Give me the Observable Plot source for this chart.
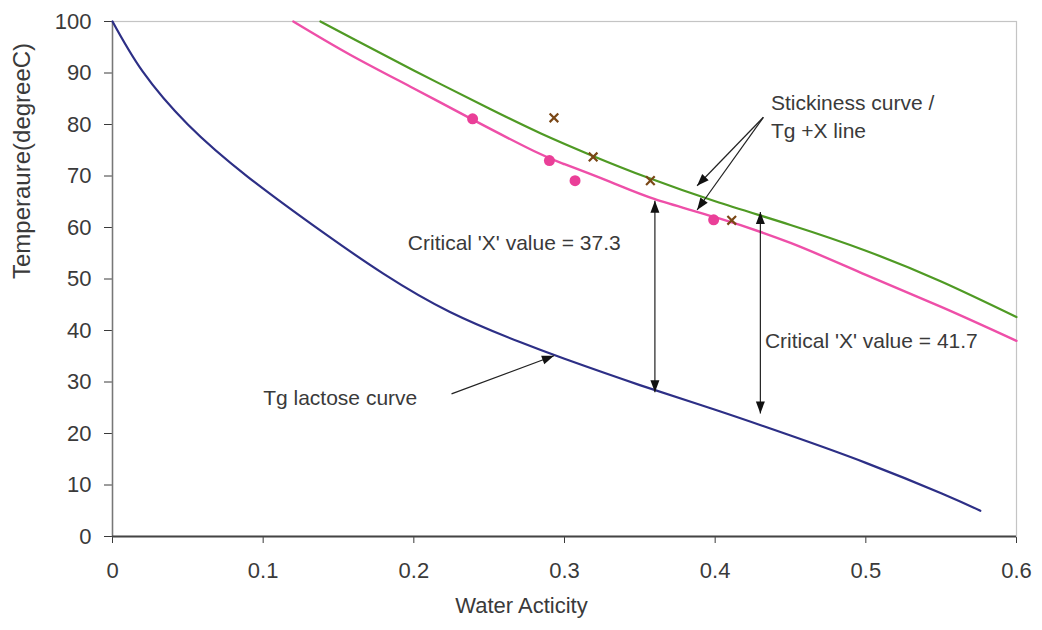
<!DOCTYPE html>
<html>
<head>
<meta charset="utf-8">
<script src="https://cdn.jsdelivr.net/npm/d3@7"></script>
<script src="https://cdn.jsdelivr.net/npm/@observablehq/plot@0.6"></script>
<style>
  html, body { margin: 0; padding: 0; background: #fff; }
</style>
</head>
<body>
<div id="chart"></div>
<script>
// ---- Data ----
const xTicks = [0, 0.1, 0.2, 0.3, 0.4, 0.5, 0.6];
const yTicks = [0, 10, 20, 30, 40, 50, 60, 70, 80, 90, 100];

// Tg lactose curve (blue)
const tgX = [0, 0.02, 0.05, 0.09, 0.14, 0.18, 0.224, 0.27, 0.3, 0.35, 0.4, 0.45, 0.5, 0.55, 0.576];
const tgY = [100, 90.3, 80, 69.8, 59.0, 51.0, 43.6, 37.8, 34.5, 29.4, 24.6, 19.6, 14.3, 8.4, 5.0];

// Stickiness curve (pink)
const stickX = [0.12, 0.158, 0.2, 0.24, 0.28, 0.3, 0.33, 0.36, 0.4, 0.45, 0.5, 0.55, 0.6];
const stickY = [100, 93.5, 87.0, 80.8, 74.8, 72.3, 68.9, 65.5, 62.0, 57.0, 50.8, 44.6, 38.0];

// Tg + X line (green)
const tgxX = [0.138, 0.16, 0.2, 0.25, 0.284, 0.318, 0.356, 0.4, 0.45, 0.5, 0.55, 0.6];
const tgxY = [100, 96.6, 90.5, 83.1, 78.3, 74.0, 69.6, 65.1, 60.5, 55.5, 49.5, 42.6];

// Measured points (pink dots) and crosses
const dotX = [0.239, 0.290, 0.307, 0.399];
const dotY = [81.1, 73.0, 69.1, 61.5];
const crossX = [0.293, 0.319, 0.357, 0.411];
const crossY = [81.3, 73.7, 69.1, 61.4];

// Annotation texts
const noteText = ["Critical 'X' value = 37.3", "Critical 'X' value = 41.7", "Tg lactose curve", "Stickiness curve /", "Tg +X line"];
const noteX = [0.196, 0.433, 0.100, 0.437, 0.437];
const noteY = [56.9, 38.0, 26.8, 84.1, 78.6];

// Leader arrows (from -> to)
const leadX1 = [0.225, 0.432, 0.432];
const leadY1 = [27.7, 81.4, 81.4];
const leadX2 = [0.293, 0.388, 0.388];
const leadY2 = [35.1, 68.1, 63.4];

// Double-headed "critical X" arrows
const spanX = [0.360, 0.430];
const spanTop = [65.2, 63.0];
const spanBottom = [28.0, 23.9];

// ---- Layout ----
const W = 1042, H = 630, ML = 112, MR = 26, MT = 21, MB = 94;
const sx = d3.scaleLinear([0, 0.6], [ML, W - MR]);
const sy = d3.scaleLinear([0, 100], [H - MB, MT]);

const toRows = (xs, ys) => xs.map((x, i) => ({x, y: ys[i]}));
const tg = toRows(tgX, tgY);
const stick = toRows(stickX, stickY);
const tgx = toRows(tgxX, tgxY);
const dots = toRows(dotX, dotY);
const crosses = toRows(crossX, crossY);
const notes = noteText.map((t, i) => ({t, x: noteX[i], y: noteY[i]}));
const leaders = leadX1.map((x1, i) => ({x1, y1: leadY1[i], x2: leadX2[i], y2: leadY2[i]}));
const spans = spanX.map((x, i) => ({x, y1: spanTop[i], y2: spanBottom[i]}));

// arrow heads: tip location + screen angle (deg clockwise from up)
const heads = [];
leaders.forEach(d => {
  const dx = sx(d.x2) - sx(d.x1), dy = sy(d.y2) - sy(d.y1);
  heads.push({x: d.x2, y: d.y2, a: Math.atan2(dx, -dy) * 180 / Math.PI});
});
spans.forEach(d => {
  heads.push({x: d.x, y: d.y1, a: 0});
  heads.push({x: d.x, y: d.y2, a: 180});
});

const font = "'Liberation Sans', Arial, Helvetica, sans-serif";

const chart = Plot.plot({
  width: W, height: H,
  marginLeft: ML, marginRight: MR, marginTop: MT, marginBottom: MB,
  style: {fontFamily: font, fontSize: "22px", color: "#3a3a3a", background: "#fff"},
  x: {domain: [0, 0.6], ticks: xTicks, tickFormat: d => String(d), tickSize: 7, tickPadding: 19, label: null},
  y: {domain: [0, 100], ticks: yTicks, tickSize: 8, tickPadding: 13, label: null},
  marks: [
    Plot.frame({stroke: "#c4c4c4", strokeWidth: 1.2}),
    Plot.ruleX([0], {stroke: "#777", strokeWidth: 1.5}),
    Plot.ruleY([0], {stroke: "#444", strokeWidth: 2}),
    Plot.line(tg, {x: "x", y: "y", stroke: "#2d2f86", strokeWidth: 2.2, curve: "natural"}),
    Plot.line(tgx, {x: "x", y: "y", stroke: "#4f9a24", strokeWidth: 2.2, curve: "natural"}),
    Plot.line(stick, {x: "x", y: "y", stroke: "#ee4fa8", strokeWidth: 2.4, curve: "natural"}),
    Plot.dot(dots, {x: "x", y: "y", r: 5.5, fill: "#ea3f98", stroke: "none"}),
    Plot.dot(crosses, {x: "x", y: "y", r: 4, symbol: "times", stroke: "#7a4716", strokeWidth: 2.2}),
    Plot.link(leaders, {x1: "x1", y1: "y1", x2: "x2", y2: "y2", stroke: "#222", strokeWidth: 1.2}),
    Plot.link(spans, {x1: "x", y1: "y1", x2: "x", y2: "y2", stroke: "#222", strokeWidth: 1.2}),
    Plot.vector(heads, {x: "x", y: "y", rotate: "a", length: 12, r: 4.5, shape: "spike", anchor: "end", fill: "#111", stroke: "none"}),
    Plot.text(notes, {x: "x", y: "y", text: "t", textAnchor: "start", fontSize: 21, fill: "#3a3a3a"}),
    Plot.text(["Temperaure(degreeC)"], {frameAnchor: "left", dx: -90, rotate: -90, fontSize: 24, fill: "#3a3a3a"}),
    Plot.text(["Water Acticity"], {frameAnchor: "bottom", dx: -43, dy: 76, fontSize: 22, fill: "#3a3a3a"})
  ]
});
document.getElementById("chart").appendChild(chart);
</script>
</body>
</html>
